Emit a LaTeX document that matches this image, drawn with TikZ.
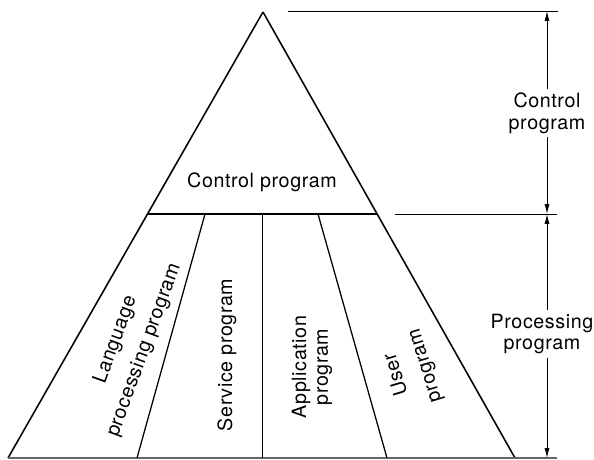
\documentclass[tikz,border=0pt]{standalone}
\usepackage{fontspec}
\setmainfont{TeX Gyre Heros}[LetterSpace=3]
\usetikzlibrary{arrows.meta}

\begin{document}
\begin{tikzpicture}[x=0.025cm, y=-0.025cm, line width=1.1pt,
	>={Latex[length=7pt,width=3.5pt]},
	font=\fontsize{14}{15.5}\selectfont,
	lbl/.style={align=center, inner sep=2pt},
	dim/.style={line width=0.6pt}]
	%\draw[help lines] (0,0) grid[step=50] (594,460);
	\useasboundingbox (0,0) rectangle (594,460);
	\coordinate (apex) at (263,12);
	\coordinate (bl) at (8,458);
	\coordinate (br) at (515,458);
	\coordinate (ml) at (148,214);
	\coordinate (mr) at (377,214);
	\draw (apex) -- (bl);
	\draw (apex) -- (br);
	\draw[black!60] (bl) -- (br) -- (557,458);
	\draw[line width=0.9pt] (ml) -- (mr);
	% dividers
	\coordinate (d1t) at (205,214); \coordinate (d1b) at (137,458);
	\coordinate (d2t) at (262.4,214); \coordinate (d2b) at (262.4,458);
	\coordinate (d3t) at (318,214); \coordinate (d3b) at (387,458);
	\draw[line width=0.9pt] (d1t) -- (d1b);
	\draw[line width=0.9pt] (d2t) -- (d2b);
	\draw[line width=0.9pt] (d3t) -- (d3b);
	% texts
	\node (cp) at (262,182) {Control program};
	\node[lbl, rotate=70] (lang) at (130,345) {Language\\[6pt] processing program};
	\node[lbl, rotate=90] (serv) at (227,355) {Service program};
	\node[lbl, rotate=90] (appl) at (312,367) {Application\\ program};
	\node[lbl, rotate=107] (user) at (411,370) {User\\[6pt] program};
	% dimensions
	\coordinate (e1) at (288,11); \coordinate (e2) at (558,11);
	\coordinate (e3) at (395,214); \coordinate (e4) at (557,214);
	\draw[dim] (e1) -- (e2);
	\draw[dim] (e3) -- (e4);
	\node[lbl] (ctl) at (547,113) {Control\\ program};
	\node[lbl] (proc) at (542,334) {Processing\\ program};
	\draw[dim, ->] (ctl) -- (547,11);
	\draw[dim, ->] (ctl) -- (547,214);
	\draw[dim, ->] (proc.north -| ctl) -- (547,214);
	\draw[dim, ->] (proc.south -| ctl) -- (547,458);
\end{tikzpicture}
\end{document}
